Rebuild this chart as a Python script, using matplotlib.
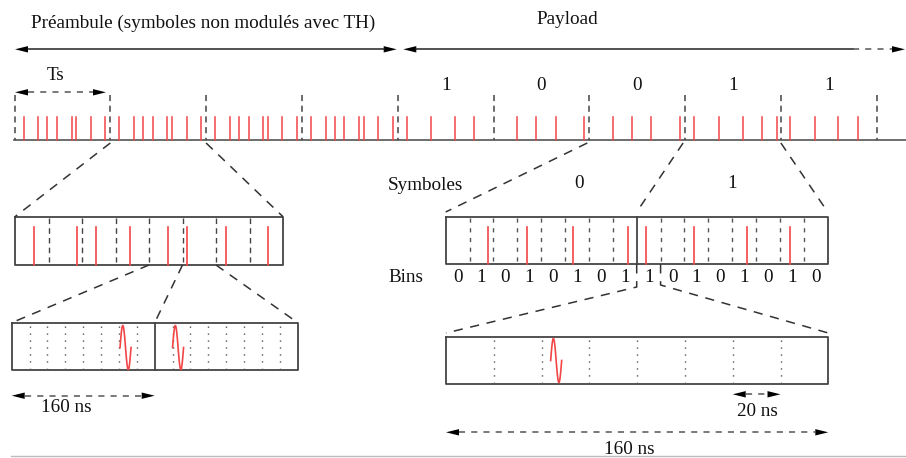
import numpy as np
import matplotlib
matplotlib.use("Agg")
import matplotlib.pyplot as plt

# ---- data ----
# time hopping pulse offsets inside one preamble symbol (fraction of Ts)
preamble_offsets = [0.094, 0.247, 0.344, 0.444, 0.595, 0.647, 0.796, 0.947]
n_preamble = 4
payload_bits = [1, 0, 0, 1, 1]
# pulse offsets inside each payload symbol (fraction of Ts)
payload_offsets = [
    [0.097, 0.352, 0.600, 0.800],
    [0.245, 0.447, 0.649, 0.948],
    [0.245, 0.447, 0.649, 0.948],
    [0.097, 0.352, 0.600, 0.800, 0.957],
    [0.097, 0.352, 0.600, 0.800],
]
# zoom of one preamble symbol: 8 frames, pulse position in frame units
preamble_zoom_pulses = [0.567, 1.851, 2.418, 3.424, 4.558, 5.143, 6.290, 7.561]
# zoom of two frames: 16 chips, wavelet start in chip units
preamble_chip_wavelets = [6.06, 9.0]
# payload zoom: two symbols of 8 bins each, pulse position in bin units
payload_zoom_pulses = [1.784, 3.405, 5.319, 7.623, 8.377, 10.41, 12.61, 14.42]
bin_labels = [0, 1, 0, 1, 0, 1, 0, 1, 1, 0, 1, 0, 1, 0, 1, 0]
symbol_labels = ["0", "1"]
# one bin = 8 chips of 20 ns, wavelet start in chip units
bin_chip_wavelet = 2.19

# ---- layout (pixel space) ----
T0, TS = 14.5, 95.8
BASE = 140
RED = "#f24646"
DARK = "#444444"
FONT = "Liberation Serif"
FS = 13.8

fig = plt.figure(figsize=(9.06, 4.58), dpi=100)
ax = fig.add_axes([0, 0, 1, 1])
ax.set_xlim(0, 906)
ax.set_ylim(458, 0)
ax.axis("off")


def head(x, y, d):
    # filled triangle arrow head, tip at (x, y), d=+1 right, -1 left
    ax.fill([x, x - d * 13, x - d * 13], [y, y - 3.2, y + 3.2], color="black", lw=0)


def dim_arrow(x1, x2, y, dashed=True):
    ax.plot([x1 + 13, x2 - 13], [y, y], color="#555555" if dashed else "#222222",
            lw=1.1, ls=(0, (4, 4)) if dashed else "-")
    head(x1, y, -1)
    head(x2, y, 1)


def text(x, y, s, ha="center"):
    ax.text(x, y, s, ha=ha, va="center", fontsize=FS, family=FONT, color="#111111")


def box(x1, x2, y1, y2):
    ax.plot([x1, x2, x2, x1, x1], [y1, y1, y2, y2, y1], color=DARK, lw=1.3)


def wavelet(x0, yc, w=11, a=22):
    t = np.linspace(0, 1, 60)
    ax.plot(x0 + w * t, yc - a * np.sin(2 * np.pi * t), color=RED, lw=1.2)


# ---- top labels and arrows ----
text(31, 23, "Préambule (symboles non modulés avec TH)", ha="left")
text(567, 19, "Payload")
ax.plot([28, 384], [49.3, 49.3], color="#222222", lw=1.1)
head(15, 49.3, -1)
head(396.7, 49.3, 1)
ax.plot([416, 853], [49.3, 49.3], color="#222222", lw=1.1)
ax.plot([853, 892], [49.3, 49.3], color="#555555", lw=1.1, ls=(0, (4, 4)))
head(403.3, 49.3, -1)
head(905, 49.3, 1)

text(56, 76, "Ts")
dim_arrow(15, 106, 92.3)

# ---- timeline ----
ax.plot([14, 906], [BASE, BASE], color="#555555", lw=1.2)
n_sym = n_preamble + len(payload_bits)
for k in range(n_sym + 1):
    x = T0 + k * TS
    ax.plot([x, x], [95, BASE], color="#444444", lw=1.1, ls=(0, (4, 3)))
for s in range(n_preamble):
    for off in preamble_offsets:
        x = T0 + (s + off) * TS
        ax.plot([x, x], [117, BASE], color=RED, lw=1.1)
for i, (bit, offs) in enumerate(zip(payload_bits, payload_offsets)):
    s = n_preamble + i
    text(T0 + (s + 0.5) * TS, 86, str(bit))
    for off in offs:
        x = T0 + (s + off) * TS
        ax.plot([x, x], [117, BASE], color=RED, lw=1.1)

zoom_ls = dict(color="#333333", lw=1.1, ls=(0, (6, 5)))

# ---- preamble symbol zoom ----
px1, px2, py1, py2 = 15, 283, 216.7, 265
fw = (px2 - px1) / 8
box(px1, px2, py1, py2)
for k in range(1, 8):
    ax.plot([px1 + k * fw] * 2, [py1 + 1, py2 - 3], color="#444444", lw=1.0, ls=(0, (4, 3)))
for p in preamble_zoom_pulses:
    ax.plot([px1 + p * fw] * 2, [227, py2], color=RED, lw=1.2)
ax.plot([T0 + TS, px1], [143, py1], **zoom_ls)
ax.plot([T0 + 2 * TS, px2], [143, py1], **zoom_ls)

# ---- preamble chip zoom ----
cx1, cx2, cy1, cy2 = 11.7, 297.7, 322.7, 370
cw = (cx2 - cx1) / 16
box(cx1, cx2, cy1, cy2)
ax.plot([cx1 + 8 * cw] * 2, [cy1, cy2], color=DARK, lw=1.3)
for k in range(1, 16):
    if k != 8:
        ax.plot([cx1 + k * cw] * 2, [cy1 + 3, cy2 - 2], color="#555555", lw=1.0, ls=(0, (1, 4)))
for c in preamble_chip_wavelets:
    wavelet(cx1 + c * cw, 347.5)
ax.plot([px1 + 4 * fw, cx1], [py2, cy1], **zoom_ls)
ax.plot([px1 + 5 * fw, cx1 + 8 * cw], [py2, cy1], **zoom_ls)
ax.plot([px1 + 6 * fw, cx2], [py2, cy1], **zoom_ls)
text(66.7, 408, "160 ns")
dim_arrow(cx1, cx1 + 8 * cw, 395.7)

# ---- payload zoom (two symbols, bins) ----
bx1, bx2, by1, by2 = 445.7, 827.7, 216.7, 264.3
bw = (bx2 - bx1) / 16
box(bx1, bx2, by1, by2)
ax.plot([bx1 + 8 * bw] * 2, [by1, by2], color=DARK, lw=1.3)
for k in range(1, 16):
    if k != 8:
        ax.plot([bx1 + k * bw] * 2, [218, 262], color="#555555", lw=1.0, ls=(0, (3, 4)))
for p in payload_zoom_pulses:
    ax.plot([bx1 + p * bw] * 2, [226.7, by2], color=RED, lw=1.2)
for k, b in enumerate(bin_labels):
    text(bx1 + (k + 0.5) * bw, 277.5, str(b))
text(388, 185, "Symboles", ha="left")
text(388, 277.5, "Bins", ha="left")
text(579, 183, symbol_labels[0])
text(732, 183, symbol_labels[1])
ax.plot([T0 + 6 * TS - 2, bx1], [143, 212], **zoom_ls)
ax.plot([T0 + 7 * TS - 2, bx1 + 8 * bw], [143, 212], **zoom_ls)
ax.plot([T0 + 8 * TS, bx2], [143, 212], **zoom_ls)

# ---- bin zoom (8 chips of 20 ns) ----
zx1, zx2, zy1, zy2 = 446, 828.3, 336.7, 384.3
zw = (zx2 - zx1) / 8
box(zx1, zx2, zy1, zy2)
for k in range(1, 8):
    ax.plot([zx1 + k * zw] * 2, [zy1 + 3, zy2 - 2], color="#555555", lw=1.0, ls=(0, (1, 4)))
wavelet(zx1 + bin_chip_wavelet * zw, 360.5)
ax.plot([bx1 + 8 * bw] * 2 + [zx1], [by2, 287, 333], **zoom_ls)
ax.plot([bx1 + 9 * bw] * 2 + [zx2], [by2, 285, 333], **zoom_ls)
text(757, 411, "20 ns")
dim_arrow(zx1 + 6 * zw, zx1 + 7 * zw, 394.3)
text(629, 449, "160 ns")
dim_arrow(zx1, zx2, 432.3)

ax.plot([11, 906], [456, 456], color="#bbbbbb", lw=1.0)

fig.savefig("out.png", dpi=100)
